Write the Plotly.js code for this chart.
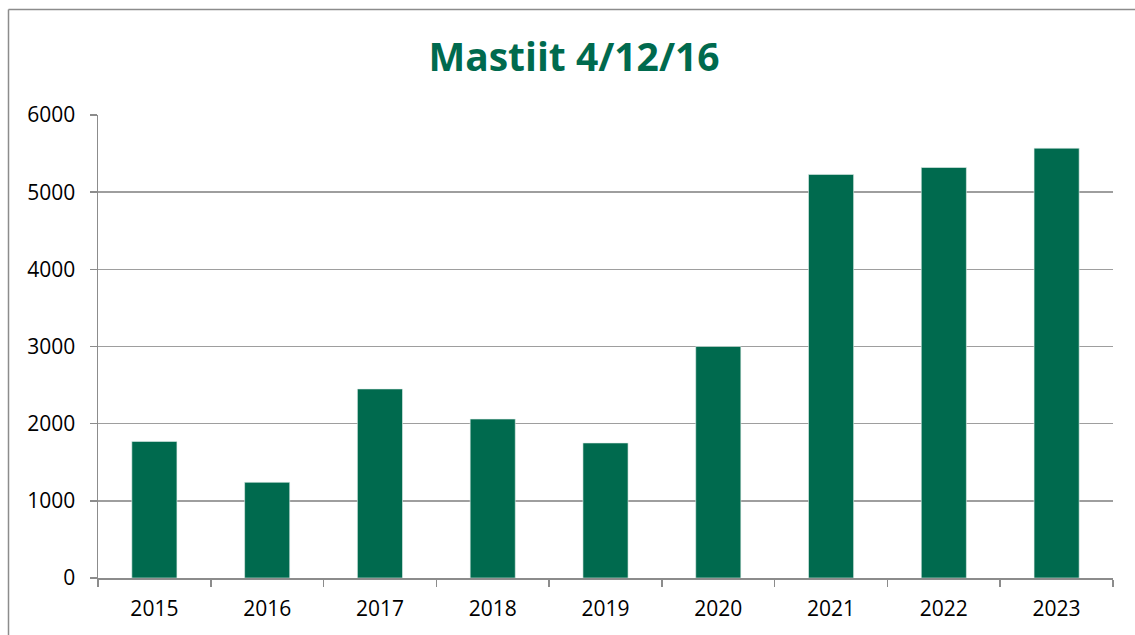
<!DOCTYPE html>
<html>
<head>
<meta charset="utf-8">
<script src="https://cdn.plot.ly/plotly-3.0.1.min.js"></script>
<style>
html,body{margin:0;padding:0;background:#fff;}
#chart{width:1135px;height:635px;}
</style>
</head>
<body>
<div id="chart"></div>
<script>
const years = ['2015','2016','2017','2018','2019','2020','2021','2022','2023'];
const values = [1770, 1240, 2450, 2060, 1750, 3000, 5230, 5320, 5570];
const yTicks = [0, 1000, 2000, 3000, 4000, 5000, 6000];
const chartTitle = 'Mastiit 4/12/16';

const L = 98, R = 22, T = 115, B = 57, W = 1135, H = 635;
const pw = W - L - R, ph = H - T - B;
const px = x => (x - L) / pw;
const py = y => (H - B - y) / ph;

const trace = {
  type: 'bar',
  x: years,
  y: values,
  marker: {color: '#006A4E', line: {color: '#e6f0ec', width: 0.6}},
  hoverinfo: 'x+y'
};

const layout = {
  width: W, height: H,
  margin: {l: L, r: R, t: T, b: B, pad: 0},
  paper_bgcolor: '#ffffff',
  plot_bgcolor: '#ffffff',
  showlegend: false,
  bargap: 0.6,
  title: {
    text: '<b>' + chartTitle + '</b>',
    font: {family: 'Open Sans', size: 39, color: '#006A4E'},
    x: 574 / W, xref: 'container', xanchor: 'center',
    y: 1 - 57 / H, yref: 'container', yanchor: 'middle'
  },
  font: {family: 'Open Sans', size: 21, color: '#000000'},
  xaxis: {
    type: 'category',
    showline: true, linecolor: '#8c8c8c', linewidth: 1.5,
    ticks: 'outside', tickson: 'boundaries', ticklen: 7, tickcolor: '#8c8c8c', tickwidth: 1.5,
    tickfont: {family: 'Open Sans', size: 21, color: '#000'},
    ticklabelstandoff: 11,
    showgrid: false, zeroline: false, fixedrange: true
  },
  yaxis: {
    range: [0, 6000],
    tickvals: yTicks,
    ticktext: yTicks.map(String),
    showline: true, linecolor: '#8c8c8c', linewidth: 1.5,
    ticks: 'outside', ticklen: 7, tickcolor: '#8c8c8c', tickwidth: 1.5,
    tickfont: {family: 'Open Sans', size: 21, color: '#000'},
    ticklabelstandoff: 10,
    showgrid: true, gridcolor: '#9e9e9e', gridwidth: 1.5,
    zeroline: false, fixedrange: true
  },
  shapes: [
    {type: 'line', xref: 'paper', yref: 'paper', x0: px(8.5), x1: px(1140), y0: py(9.5), y1: py(9.5), line: {color: '#8c8c8c', width: 1.5}},
    {type: 'line', xref: 'paper', yref: 'paper', x0: px(8.5), x1: px(8.5), y0: py(9.5), y1: py(640), line: {color: '#8c8c8c', width: 1.5}}
  ]
};

Plotly.newPlot('chart', [trace], layout, {displayModeBar: false, staticPlot: true});
</script>
</body>
</html>
